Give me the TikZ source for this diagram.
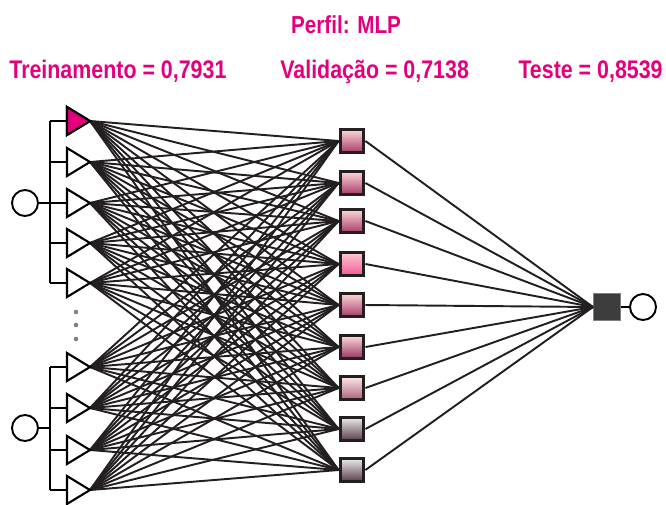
\documentclass[tikz,border=0pt]{standalone}
\usepackage{fontspec}
\setmainfont{Liberation Sans}
\usepackage{graphicx}

\definecolor{rosa}{HTML}{E4007C}
\definecolor{borda}{HTML}{231F20}
\definecolor{cinza}{HTML}{3C3C3C}

\newcommand{\estreito}[1]{\scalebox{0.84}[1]{#1}}

\tikzset{
  entrada/.style={draw, line width=1.2pt, fill=white, line join=miter},
  ligacao/.style={line width=1.1pt, borda},
  barra/.style={line width=1.2pt},
  oculto/.style 2 args={draw=borda, line width=1.9pt, minimum size=0.47cm,
    inner sep=0pt, top color=#1, bottom color=#2},
  saida/.style={draw=gray, line width=0.6pt, fill=cinza, minimum size=0.54cm, inner sep=0pt},
  terminal/.style={circle, draw, line width=1.1pt, fill=white, minimum size=0.52cm, inner sep=0pt},
  rotulo/.style={text=rosa, inner sep=0pt, font=\fontsize{14.5}{16}\selectfont\bfseries},
}

\begin{document}
\begin{tikzpicture}[x=0.02cm, y=-0.02cm]
\useasboundingbox (0,0) rectangle (666,504);

\pgfmathsetmacro{\xbus}{50}
\pgfmathsetmacro{\xbase}{67}
\pgfmathsetmacro{\xtopo}{90}
\pgfmathsetmacro{\meia}{14}

% titulos
\node[rotulo, anchor=base, font=\fontsize{14}{15}\selectfont\bfseries] (titulo) at (346,33) {\estreito{Perfil: MLP}};
\node[rotulo, anchor=base west] (treino) at (9,78) {\estreito{Treinamento = 0,7931}};
\node[rotulo, anchor=base west] (valid) at (280,78) {\estreito{Validação = 0,7138}};
\node[rotulo, anchor=base east] (teste) at (663,78) {\estreito{Teste = 0,8539}};

% camada oculta
\foreach \j/\y/\ca/\cb in {1/141/pink!60!white/rosa!55!black!70!pink,
                            2/183/pink!60!white/rosa!55!black!70!pink,
                            3/221/pink!60!white/rosa!55!black!70!pink,
                            4/264/pink!80!white/rosa!55!pink,
                            5/305/pink!60!white/rosa!55!black!70!pink,
                            6/347/pink!55!white/rosa!50!black!75!pink,
                            7/388/pink!30!white/rosa!40!black!50!pink,
                            8/429/gray!15!white/rosa!25!black!55!gray,
                            9/470/gray!15!white/rosa!25!black!55!gray}
  \node[oculto={\ca}{\cb}] (h\j) at (352,\y) {};

% saida
\node[saida] (out) at (607,307) {};
\node[terminal] (fim) at (643,307) {};
\draw[barra] (out.east) -- (fim.west);

% entradas
\foreach \i/\y in {1/121, 2/162, 3/203, 4/243, 5/283, 6/367, 7/408, 8/450, 9/490} {
  \coordinate (in\i) at (\xtopo,\y);
  \coordinate (b\i) at (\xbase,\y);
  \coordinate (bus\i) at (\xbus,\y);
}

\foreach \i in {1,...,9}
  \foreach \j in {1,...,9}
    \draw[ligacao] (in\i) -- (h\j.west);

\foreach \j in {1,...,9}
  \draw[ligacao] (h\j.east) -- (out.west);

\foreach \i/\y in {1/121, 2/162, 3/203, 4/243, 5/283, 6/367, 7/408, 8/450, 9/490}
  \draw[entrada] (\xbase,\y-\meia) -- (in\i) -- (\xbase,\y+\meia) -- cycle;
\fill[rosa] (\xbase,121-\meia) -- (in1) -- (\xbase,121+\meia) -- cycle;
\draw[line width=1.2pt, line join=miter] (\xbase,121-\meia) -- (in1) -- (\xbase,121+\meia) -- cycle;

% barramentos
\draw[barra] (bus1) -- (bus5);
\draw[barra] (bus6) -- (bus9);
\foreach \i in {1,...,9}
  \draw[barra] (bus\i) -- (b\i);

\node[terminal] (x1) at (25,203) {};
\node[terminal] (x2) at (25,428) {};
\draw[barra] (x1.east) -- (\xbus,203);
\draw[barra] (x2.east) -- (\xbus,428);

% reticencias
\foreach \y in {312,325,339}
  \fill[gray] (76,\y) circle (2.3);

\end{tikzpicture}
\end{document}
